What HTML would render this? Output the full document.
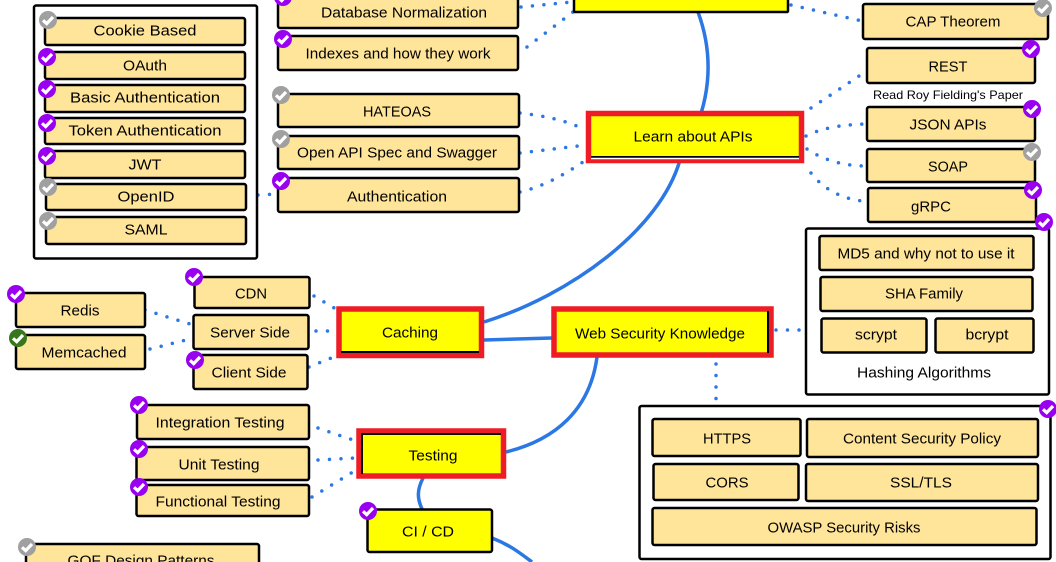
<!DOCTYPE html>
<html><head><meta charset="utf-8"><style>
html,body{margin:0;padding:0;background:#fff;width:1056px;height:562px;overflow:hidden}
svg{display:block}
text{font-family:"Liberation Sans","DejaVu Sans",sans-serif;font-size:15px;fill:#000;text-anchor:middle;dominant-baseline:central}
.n{fill:#ffe599;stroke:#000;stroke-width:2.5}
.y{fill:#ff0;stroke:#000;stroke-width:2.5}
.b{fill:#fff;stroke:#000;stroke-width:2.5}
.r{fill:#ff0;stroke:#ee1c25;stroke-width:5.5}
.c{fill:none;stroke:#2b78e4;stroke-width:3.5}
.d{fill:none;stroke:#2b78e4;stroke-width:3.5;stroke-linecap:round;stroke-dasharray:0 11.5}
.k{fill:none;stroke:#000;stroke-width:2}
</style></head><body>
<svg width="1056" height="562" viewBox="0 0 1056 562" xmlns="http://www.w3.org/2000/svg">
<defs>
<g id="ck"><path d="M-5,0.3 L-1.3,3.6 L5,-3" fill="none" stroke="#fff" stroke-width="3.2"/></g>
</defs>

<path class="c" d="M698,12 C712,50 716,100 680,160 C660,230 570,295 484,322"/>
<path class="c" d="M484,340 L552,338"/>
<path class="c" d="M597,357 C590,410 555,440 506,452"/>
<path class="c" d="M423,478 C417,490 417,498 422,509"/>
<path class="c" d="M492,538 C510,545 520,553 532,562"/>

<path class="d" d="M521,7 L572,2"/>
<path class="d" d="M527,47 L573,12"/>
<path class="d" d="M791,5 L862,21"/>
<path class="d" d="M811,108 L868,70"/>
<path class="d" d="M806,136 C822,128 840,125 864,124"/>
<path class="d" d="M807,149 C825,161 845,166 866,166"/>
<path class="d" d="M811,173 C822,187 838,198 862,201"/>
<path class="d" d="M520,113 C545,116 565,120 586,130"/>
<path class="d" d="M520,153 L586,145"/>
<path class="d" d="M520,192 C545,186 565,174 586,160"/>
<path class="d" d="M258,195 L278,194"/>
<path class="d" d="M314,296 L336,309"/>
<path class="d" d="M316,331 L336,331"/>
<path class="d" d="M309,367 L336,356"/>
<path class="d" d="M145,310 L190,324"/>
<path class="d" d="M150,349 L190,339"/>
<path class="d" d="M318,428 L356,441"/>
<path class="d" d="M318,460 L356,458"/>
<path class="d" d="M312,497 L356,470"/>
<path class="d" d="M776,330 L803,330"/>
<path class="d" d="M716,364 L716,400"/>

<rect class="b" x="34" y="5.5" width="223" height="253" rx="2"/>
<rect class="b" x="806" y="228.5" width="243" height="166" rx="2"/>
<rect class="b" x="639.5" y="406" width="411" height="153" rx="2"/>

<rect class="n" x="45" y="18" width="200" height="27" rx="2"/><text x="145" y="31" textLength="103" lengthAdjust="spacingAndGlyphs">Cookie Based</text>
<rect class="n" x="45" y="52" width="200" height="27" rx="2"/><text x="145" y="66" textLength="44" lengthAdjust="spacingAndGlyphs">OAuth</text>
<rect class="n" x="45" y="85" width="200" height="27" rx="2"/><text x="145" y="98" textLength="150" lengthAdjust="spacingAndGlyphs">Basic Authentication</text>
<rect class="n" x="45" y="118" width="200" height="26" rx="2"/><text x="145" y="131" textLength="153" lengthAdjust="spacingAndGlyphs">Token Authentication</text>
<rect class="n" x="45" y="151" width="200" height="27" rx="2"/><text x="145" y="165" textLength="33" lengthAdjust="spacingAndGlyphs">JWT</text>
<rect class="n" x="46" y="184" width="200" height="26" rx="2"/><text x="146" y="197" textLength="57" lengthAdjust="spacingAndGlyphs">OpenID</text>
<rect class="n" x="46" y="217" width="200" height="27" rx="2"/><text x="146" y="230" textLength="43" lengthAdjust="spacingAndGlyphs">SAML</text>

<rect class="n" x="278" y="-6" width="240" height="34" rx="2"/><text x="404" y="13" textLength="166" lengthAdjust="spacingAndGlyphs">Database Normalization</text>
<rect class="n" x="278" y="36" width="240" height="34" rx="2"/><text x="398" y="54" textLength="185" lengthAdjust="spacingAndGlyphs">Indexes and how they work</text>
<rect class="n" x="278" y="94" width="241" height="33" rx="2"/><text x="397" y="112" textLength="68" lengthAdjust="spacingAndGlyphs">HATEOAS</text>
<rect class="n" x="278" y="136" width="241" height="33" rx="2"/><text x="397" y="153" textLength="200" lengthAdjust="spacingAndGlyphs">Open API Spec and Swagger</text>
<rect class="n" x="278" y="178" width="241" height="34" rx="2"/><text x="397" y="197" textLength="100" lengthAdjust="spacingAndGlyphs">Authentication</text>

<rect class="y" x="574" y="-10" width="214" height="22" rx="1"/>

<rect class="r" x="588.5" y="113.5" width="213" height="47"/>
<path class="k" d="M591,157 H799"/>
<path d="M591,158.5 H799" stroke="#fff" stroke-width="1.5"/>
<text x="693" y="137" textLength="119" lengthAdjust="spacingAndGlyphs">Learn about APIs</text>

<rect class="n" x="863" y="4" width="185" height="35" rx="2"/><text x="953" y="22" textLength="95" lengthAdjust="spacingAndGlyphs">CAP Theorem</text>
<rect class="n" x="867" y="48" width="168" height="35" rx="2"/><text x="948" y="67" textLength="39" lengthAdjust="spacingAndGlyphs">REST</text>
<text x="948" y="95" textLength="150" lengthAdjust="spacingAndGlyphs" style="font-size:12px">Read Roy Fielding's Paper</text>
<rect class="n" x="867" y="107" width="168" height="34" rx="2"/><text x="948" y="125" textLength="77" lengthAdjust="spacingAndGlyphs">JSON APIs</text>
<rect class="n" x="867" y="149" width="168" height="33" rx="2"/><text x="948" y="167" textLength="40" lengthAdjust="spacingAndGlyphs">SOAP</text>
<rect class="n" x="868" y="188" width="168" height="34" rx="2"/><text x="931" y="207" textLength="40" lengthAdjust="spacingAndGlyphs">gRPC</text>

<rect class="n" x="819.5" y="236" width="214" height="34" rx="2"/><text x="926" y="254" textLength="177" lengthAdjust="spacingAndGlyphs">MD5 and why not to use it</text>
<rect class="n" x="820.5" y="277" width="212" height="34" rx="2"/><text x="924" y="294" textLength="78" lengthAdjust="spacingAndGlyphs">SHA Family</text>
<rect class="n" x="821.5" y="318.5" width="105" height="34" rx="2"/><text x="876" y="335" textLength="42" lengthAdjust="spacingAndGlyphs">scrypt</text>
<rect class="n" x="935.5" y="318.5" width="98" height="34" rx="2"/><text x="987" y="335" textLength="43" lengthAdjust="spacingAndGlyphs">bcrypt</text>
<text x="924" y="373" textLength="134" lengthAdjust="spacingAndGlyphs">Hashing Algorithms</text>

<rect class="n" x="652.5" y="419" width="148" height="37" rx="2"/><text x="727" y="439" textLength="48" lengthAdjust="spacingAndGlyphs">HTTPS</text>
<rect class="n" x="807" y="419" width="231" height="38" rx="2"/><text x="922" y="439" textLength="158" lengthAdjust="spacingAndGlyphs">Content Security Policy</text>
<rect class="n" x="653.5" y="464" width="145" height="36" rx="2"/><text x="727" y="483" textLength="43" lengthAdjust="spacingAndGlyphs">CORS</text>
<rect class="n" x="806" y="464" width="232" height="37" rx="2"/><text x="921" y="483" textLength="62" lengthAdjust="spacingAndGlyphs">SSL/TLS</text>
<rect class="n" x="652.5" y="508" width="384" height="37" rx="2"/><text x="844" y="528" textLength="153" lengthAdjust="spacingAndGlyphs">OWASP Security Risks</text>

<rect class="n" x="16" y="293" width="129" height="34" rx="2"/><text x="80" y="311" textLength="39" lengthAdjust="spacingAndGlyphs">Redis</text>
<rect class="n" x="16" y="335" width="129" height="34" rx="2"/><text x="84" y="353" textLength="85" lengthAdjust="spacingAndGlyphs">Memcached</text>
<rect class="n" x="194.5" y="277" width="115" height="31" rx="2"/><text x="251" y="294" textLength="32" lengthAdjust="spacingAndGlyphs">CDN</text>
<rect class="n" x="193.5" y="315" width="115" height="34" rx="2"/><text x="250" y="333" textLength="80" lengthAdjust="spacingAndGlyphs">Server Side</text>
<rect class="n" x="193.5" y="355" width="114" height="34" rx="2"/><text x="249" y="373" textLength="75" lengthAdjust="spacingAndGlyphs">Client Side</text>

<rect class="r" x="339" y="309" width="142.5" height="46.5"/>
<path class="k" d="M341,352 H479"/>
<text x="410" y="333" textLength="56" lengthAdjust="spacingAndGlyphs">Caching</text>

<rect class="r" x="554" y="309" width="217" height="46"/>
<path class="k" d="M768,311 V353"/>
<text x="660" y="334" textLength="170" lengthAdjust="spacingAndGlyphs">Web Security Knowledge</text>

<rect class="n" x="137" y="405" width="172" height="34" rx="2"/><text x="220" y="423" textLength="129" lengthAdjust="spacingAndGlyphs">Integration Testing</text>
<rect class="n" x="136.5" y="447" width="172.5" height="33" rx="2"/><text x="219" y="465" textLength="81" lengthAdjust="spacingAndGlyphs">Unit Testing</text>
<rect class="n" x="136.5" y="485" width="172.5" height="31" rx="2"/><text x="218" y="502" textLength="125" lengthAdjust="spacingAndGlyphs">Functional Testing</text>

<rect class="r" x="359" y="431" width="144.5" height="45"/>
<path class="k" d="M362,474 V434 H501"/>
<text x="433" y="456" textLength="49" lengthAdjust="spacingAndGlyphs">Testing</text>

<rect class="y" x="367.5" y="509.5" width="124.5" height="42.5" rx="2"/><text x="428" y="532" textLength="52" lengthAdjust="spacingAndGlyphs">CI / CD</text>

<rect class="n" x="26" y="544" width="233" height="30" rx="2"/><text x="141" y="561" textLength="147" lengthAdjust="spacingAndGlyphs">GOF Design Patterns</text>

<g fill="#a0a0a0">
<circle cx="48" cy="20" r="9"/><circle cx="48" cy="187" r="9"/><circle cx="48" cy="221" r="9"/>
<circle cx="281" cy="95" r="9"/><circle cx="281" cy="139" r="9"/>
<circle cx="1043" cy="8" r="9"/><circle cx="1032" cy="152" r="9"/><circle cx="27" cy="547" r="9"/>
</g>
<g fill="#9900ef">
<circle cx="47" cy="57" r="9"/><circle cx="47" cy="89" r="9"/><circle cx="47" cy="123" r="9"/><circle cx="47" cy="156" r="9"/>
<circle cx="283" cy="-3" r="9"/><circle cx="283" cy="39" r="9"/><circle cx="281" cy="181" r="9"/>
<circle cx="1031" cy="49" r="9"/><circle cx="1032" cy="109" r="9"/><circle cx="1033" cy="190" r="9"/>
<circle cx="1044" cy="222" r="9"/><circle cx="1048" cy="409" r="9"/>
<circle cx="16" cy="294" r="9"/><circle cx="194" cy="277" r="9"/><circle cx="195" cy="360" r="9"/>
<circle cx="139" cy="405" r="9"/><circle cx="139" cy="449" r="9"/><circle cx="139" cy="487" r="9"/>
<circle cx="368" cy="511" r="9"/>
</g>
<circle cx="18" cy="338" r="9" fill="#38761d"/>

<use href="#ck" x="48" y="20"/><use href="#ck" x="48" y="187"/><use href="#ck" x="48" y="221"/>
<use href="#ck" x="281" y="95"/><use href="#ck" x="281" y="139"/>
<use href="#ck" x="1043" y="8"/><use href="#ck" x="1032" y="152"/><use href="#ck" x="27" y="547"/>
<use href="#ck" x="47" y="57"/><use href="#ck" x="47" y="89"/><use href="#ck" x="47" y="123"/><use href="#ck" x="47" y="156"/>
<use href="#ck" x="283" y="-3"/><use href="#ck" x="283" y="39"/><use href="#ck" x="281" y="181"/>
<use href="#ck" x="1031" y="49"/><use href="#ck" x="1032" y="109"/><use href="#ck" x="1033" y="190"/>
<use href="#ck" x="1044" y="222"/><use href="#ck" x="1048" y="409"/>
<use href="#ck" x="16" y="294"/><use href="#ck" x="194" y="277"/><use href="#ck" x="195" y="360"/>
<use href="#ck" x="139" y="405"/><use href="#ck" x="139" y="449"/><use href="#ck" x="139" y="487"/>
<use href="#ck" x="368" y="511"/><use href="#ck" x="18" y="338"/>
</svg>
</body></html>
